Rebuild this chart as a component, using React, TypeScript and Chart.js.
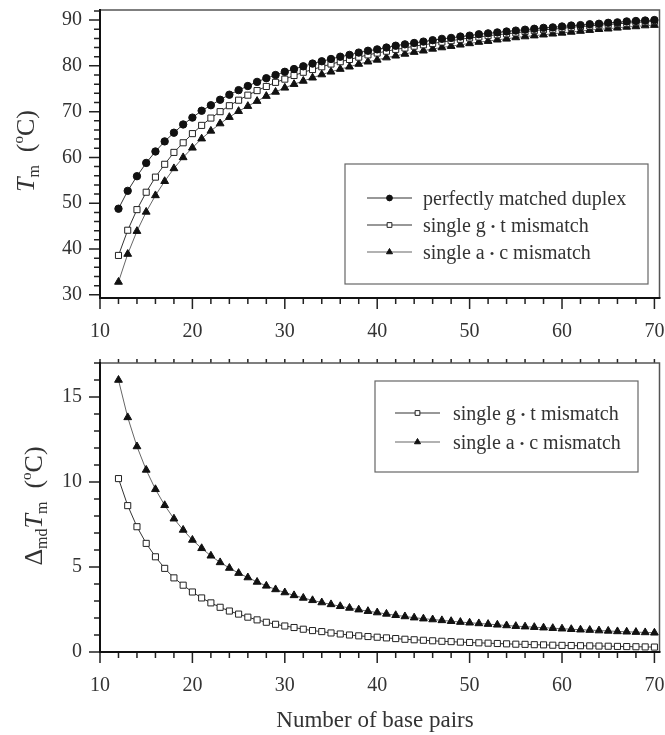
import React, { useEffect, useRef } from 'react';
import { Chart, registerables } from 'chart.js';

Chart.register(...registerables);

// ---------- data ----------
const basePairs = [
  12, 13, 14, 15, 16, 17, 18, 19, 20, 21, 22, 23, 24, 25, 26, 27, 28, 29, 30,
  31, 32, 33, 34, 35, 36, 37, 38, 39, 40, 41, 42, 43, 44, 45, 46, 47, 48, 49, 50,
  51, 52, 53, 54, 55, 56, 57, 58, 59, 60, 61, 62, 63, 64, 65, 66, 67, 68, 69, 70,
];

const tmPerfect = [
  48.8, 52.7, 55.9, 58.8, 61.3, 63.5, 65.4, 67.2, 68.7, 70.2, 71.4, 72.6, 73.7, 74.7, 75.6, 76.5, 77.3, 78.0, 78.7,
  79.3, 79.9, 80.5, 81.0, 81.5, 82.0, 82.4, 82.9, 83.3, 83.6, 84.0, 84.4, 84.7, 85.0, 85.3, 85.6, 85.9, 86.1, 86.4, 86.6,
  86.9, 87.1, 87.3, 87.5, 87.7, 87.9, 88.1, 88.3, 88.4, 88.6, 88.8, 88.9, 89.1, 89.2, 89.4, 89.5, 89.7, 89.8, 89.9, 90.0,
];

const tmGT = [
  38.6, 44.1, 48.6, 52.4, 55.7, 58.5, 61.1, 63.2, 65.2, 67.0, 68.6, 70.0, 71.3, 72.5, 73.6, 74.6, 75.5, 76.4, 77.1,
  77.9, 78.6, 79.2, 79.8, 80.4, 80.9, 81.4, 81.9, 82.4, 82.8, 83.2, 83.6, 83.9, 84.3, 84.6, 84.9, 85.2, 85.5, 85.8, 86.1,
  86.3, 86.6, 86.8, 87.0, 87.2, 87.5, 87.7, 87.9, 88.0, 88.2, 88.4, 88.6, 88.7, 88.9, 89.0, 89.2, 89.3, 89.5, 89.6, 89.7,
];

const tmAC = [
  32.8, 38.9, 43.9, 48.1, 51.7, 54.8, 57.6, 60.0, 62.1, 64.1, 65.8, 67.4, 68.8, 70.1, 71.2, 72.3, 73.4, 74.3, 75.2,
  76.0, 76.7, 77.4, 78.1, 78.7, 79.3, 79.8, 80.4, 80.9, 81.3, 81.8, 82.2, 82.6, 83.0, 83.3, 83.7, 84.0, 84.3, 84.6, 84.9,
  85.2, 85.4, 85.7, 85.9, 86.2, 86.4, 86.6, 86.8, 87.0, 87.2, 87.4, 87.6, 87.8, 88.0, 88.1, 88.3, 88.5, 88.6, 88.8, 88.9,
];

const dTmGT = [
  10.2, 8.61, 7.37, 6.39, 5.6, 4.92, 4.36, 3.93, 3.53, 3.18, 2.89, 2.63, 2.41, 2.23, 2.05, 1.89, 1.75, 1.63, 1.53,
  1.44, 1.34, 1.26, 1.2, 1.12, 1.06, 1.0, 0.95, 0.91, 0.87, 0.83, 0.79, 0.75, 0.72, 0.69, 0.66, 0.63, 0.61, 0.58, 0.56,
  0.54, 0.52, 0.5, 0.48, 0.46, 0.45, 0.43, 0.42, 0.4, 0.39, 0.38, 0.37, 0.36, 0.35, 0.34, 0.33, 0.32, 0.31, 0.3, 0.29,
];

const dTmAC = [
  16.0, 13.8, 12.09, 10.71, 9.57, 8.63, 7.84, 7.18, 6.59, 6.1, 5.66, 5.27, 4.94, 4.64, 4.38, 4.12, 3.89, 3.68, 3.5,
  3.33, 3.18, 3.04, 2.91, 2.8, 2.69, 2.59, 2.49, 2.4, 2.32, 2.24, 2.16, 2.09, 2.02, 1.96, 1.91, 1.86, 1.81, 1.76, 1.72,
  1.68, 1.64, 1.6, 1.56, 1.52, 1.49, 1.46, 1.43, 1.4, 1.37, 1.34, 1.31, 1.29, 1.26, 1.24, 1.21, 1.19, 1.17, 1.15, 1.13,
];

const labelPerfect = 'perfectly matched duplex';
const labelGT = 'single g • t mismatch';
const labelAC = 'single a • c mismatch';
const xAxisTitle = 'Number of base pairs';

// ---------- styling ----------
const SERIF = '"Liberation Serif", "Times New Roman", serif';
const TEXT = '#333';

const pts = (ys: number[]) => basePairs.map((x, i) => ({ x, y: ys[i] }));

const perfectStyle = {
  borderColor: '#333', borderWidth: 1, pointStyle: 'circle', pointRadius: 3.7,
  pointBackgroundColor: '#111', pointBorderColor: '#111', pointBorderWidth: 1,
};
const gtStyle = {
  borderColor: '#333', borderWidth: 1, pointStyle: 'rect', pointRadius: 4.3,
  pointBackgroundColor: '#fff', pointBorderColor: '#222', pointBorderWidth: 1,
};
const acStyle = {
  borderColor: '#666', borderWidth: 1, pointStyle: 'triangle', pointRadius: 4.5,
  pointBackgroundColor: '#111', pointBorderColor: '#111', pointBorderWidth: 1,
};

function drawMarker(ctx: CanvasRenderingContext2D, style: string, x: number, y: number, r: number, fill: string, stroke: string) {
  ctx.beginPath();
  if (style === 'circle') {
    ctx.arc(x, y, r, 0, Math.PI * 2);
  } else if (style === 'rect') {
    const s = r * Math.SQRT1_2;
    ctx.rect(x - s, y - s, 2 * s, 2 * s);
  } else {
    ctx.moveTo(x, y - r);
    ctx.lineTo(x + r * 0.866, y + r * 0.5);
    ctx.lineTo(x - r * 0.866, y + r * 0.5);
    ctx.closePath();
  }
  ctx.fillStyle = fill;
  ctx.fill();
  ctx.strokeStyle = stroke;
  ctx.lineWidth = 1;
  ctx.stroke();
}

type Seg = { t: string; size: number; italic?: boolean; dy?: number };

function drawRotatedRich(ctx: CanvasRenderingContext2D, segs: Seg[], bx: number, cy: number) {
  ctx.save();
  ctx.translate(bx, cy);
  ctx.rotate(-Math.PI / 2);
  ctx.fillStyle = TEXT;
  ctx.textBaseline = 'alphabetic';
  ctx.textAlign = 'left';
  const fontOf = (s: Seg) => `${s.italic ? 'italic ' : ''}${s.size}px ${SERIF}`;
  let total = 0;
  for (const s of segs) {
    ctx.font = fontOf(s);
    total += ctx.measureText(s.t).width;
  }
  let x = -total / 2;
  for (const s of segs) {
    ctx.font = fontOf(s);
    ctx.fillText(s.t, x, s.dy || 0);
    x += ctx.measureText(s.t).width;
  }
  ctx.restore();
}

// legend label: the "•" between bases is drawn smaller, as in the original
function drawLegendLabel(ctx: CanvasRenderingContext2D, label: string, x: number, baseline: number) {
  const parts = label.split('•');
  ctx.textBaseline = 'alphabetic';
  ctx.textAlign = 'left';
  ctx.fillStyle = TEXT;
  let cx = x;
  parts.forEach((p, i) => {
    ctx.font = `20px ${SERIF}`;
    ctx.fillText(p, cx, baseline);
    cx += ctx.measureText(p).width;
    if (i < parts.length - 1) {
      ctx.font = `13px ${SERIF}`;
      ctx.fillText('•', cx, baseline - 1);
      cx += ctx.measureText('•').width;
    }
  });
}

type DecorCfg = {
  xMajor: number;
  yMajor: number;
  topTicks: boolean;
  legend: { box: [number, number, number, number]; rows: number[]; lineX: [number, number]; textX: number; items: { label: string; ds: number }[] };
  yTitle: { segs: Seg[]; bx: number; cy: number };
  xTitle?: { text: string; cx: number; by: number };
};

function makeDecor(id: string, cfg: DecorCfg) {
  return {
    id,
    afterDraw(chart: any) {
      const ctx: CanvasRenderingContext2D = chart.ctx;
      const { left, right, top, bottom } = chart.chartArea;
      const xs = chart.scales.x;
      const ys = chart.scales.y;
      ctx.save();

      // tick marks (major / minor)
      ctx.strokeStyle = '#222';
      ctx.lineWidth = 1.5;
      ctx.beginPath();
      for (const t of xs.ticks) {
        const px = xs.getPixelForValue(t.value);
        const len = t.value % cfg.xMajor === 0 ? 11 : 6;
        ctx.moveTo(px, bottom);
        ctx.lineTo(px, bottom + len);
        if (cfg.topTicks) {
          ctx.moveTo(px, top);
          ctx.lineTo(px, top - 4);
        }
      }
      for (const t of ys.ticks) {
        const py = ys.getPixelForValue(t.value);
        const len = Math.abs(t.value % cfg.yMajor) < 1e-6 ? 11 : 6;
        ctx.moveTo(left, py);
        ctx.lineTo(left - len, py);
      }
      ctx.stroke();

      // frame
      ctx.strokeStyle = '#555';
      ctx.lineWidth = 1.5;
      ctx.beginPath();
      ctx.moveTo(left, top);
      ctx.lineTo(right, top);
      ctx.lineTo(right, bottom);
      ctx.stroke();
      ctx.strokeStyle = '#111';
      ctx.lineWidth = 2;
      ctx.beginPath();
      ctx.moveTo(left, top - 1);
      ctx.lineTo(left, bottom);
      ctx.lineTo(right + 1, bottom);
      ctx.stroke();

      // legend
      const L = cfg.legend;
      ctx.strokeStyle = '#666';
      ctx.lineWidth = 1.2;
      ctx.strokeRect(L.box[0], L.box[1], L.box[2] - L.box[0], L.box[3] - L.box[1]);
      L.items.forEach((it, i) => {
        const ds = chart.data.datasets[it.ds];
        const y = L.rows[i];
        ctx.strokeStyle = ds.borderColor;
        ctx.lineWidth = 1.2;
        ctx.beginPath();
        ctx.moveTo(L.lineX[0], y);
        ctx.lineTo(L.lineX[1], y);
        ctx.stroke();
        drawMarker(ctx, ds.pointStyle, (L.lineX[0] + L.lineX[1]) / 2, y, ds.pointRadius * 0.78, ds.pointBackgroundColor, ds.pointBorderColor);
        drawLegendLabel(ctx, it.label, L.textX, y + 7);
      });

      // axis titles
      drawRotatedRich(ctx, cfg.yTitle.segs, cfg.yTitle.bx, cfg.yTitle.cy);
      if (cfg.xTitle) {
        ctx.font = `23px ${SERIF}`;
        ctx.fillStyle = TEXT;
        ctx.textAlign = 'center';
        ctx.textBaseline = 'alphabetic';
        ctx.fillText(cfg.xTitle.text, cfg.xTitle.cx, cfg.xTitle.by);
      }
      ctx.restore();
    },
  };
}

const zeroPad = (s: any) => {
  s.paddingTop = 0;
  s.paddingBottom = 0;
  s.paddingLeft = 0;
  s.paddingRight = 0;
};

function baseScales(yMin: number, yMax: number, yStep: number, yMajor: number, xHeight: number) {
  const tickFont = { family: SERIF, size: 20 };
  return {
    x: {
      type: 'linear',
      min: 10,
      max: 70.55,
      afterFit: (s: any) => { s.height = xHeight; zeroPad(s); },
      grid: { display: false, drawTicks: false },
      border: { display: false },
      ticks: {
        stepSize: 2,
        includeBounds: false,
        autoSkip: false,
        maxRotation: 0,
        padding: 22,
        color: TEXT,
        font: tickFont,
        callback: (v: number) => (v % 10 === 0 ? String(v) : ''),
      },
    },
    y: {
      type: 'linear',
      min: yMin,
      max: yMax,
      afterFit: (s: any) => { s.width = 100; zeroPad(s); },
      grid: { display: false, drawTicks: false },
      border: { display: false },
      ticks: {
        stepSize: yStep,
        includeBounds: false,
        autoSkip: false,
        padding: 18,
        color: TEXT,
        font: tickFont,
        callback: (v: number) => (Math.abs(v % yMajor) < 1e-6 ? String(v) : ''),
      },
    },
  };
}

export default function App() {
  const topRef = useRef<HTMLCanvasElement>(null);
  const botRef = useRef<HTMLCanvasElement>(null);

  useEffect(() => {
    const common = {
      responsive: false,
      animation: false,
      devicePixelRatio: 1,
      plugins: { legend: { display: false }, tooltip: { enabled: false } },
    };

    const topChart = new Chart(topRef.current as HTMLCanvasElement, {
      type: 'line',
      data: {
        datasets: [
          { label: labelPerfect, data: pts(tmPerfect), ...perfectStyle },
          { label: labelGT, data: pts(tmGT), ...gtStyle },
          { label: labelAC, data: pts(tmAC), ...acStyle },
        ],
      },
      options: {
        ...common,
        layout: { padding: { left: 0, right: 5, top: 10, bottom: 0 } },
        scales: baseScales(29.3, 92.2, 2, 10, 52),
      } as any,
      plugins: [
        makeDecor('decorTop', {
          xMajor: 10,
          yMajor: 10,
          topTicks: false,
          legend: {
            box: [345, 164, 648, 284],
            rows: [198, 225, 252],
            lineX: [367, 412],
            textX: 423,
            items: [
              { label: labelPerfect, ds: 0 },
              { label: labelGT, ds: 1 },
              { label: labelAC, ds: 2 },
            ],
          },
          yTitle: {
            bx: 34,
            cy: 151,
            segs: [
              { t: 'T', size: 26, italic: true },
              { t: 'm', size: 16, dy: 5 },
              { t: '  (', size: 26 },
              { t: 'o', size: 15, dy: -11 },
              { t: 'C)', size: 26 },
            ],
          },
        }),
      ],
    } as any);

    const botChart = new Chart(botRef.current as HTMLCanvasElement, {
      type: 'line',
      data: {
        datasets: [
          { label: labelGT, data: pts(dTmGT), ...gtStyle },
          { label: labelAC, data: pts(dTmAC), ...acStyle },
        ],
      },
      options: {
        ...common,
        layout: { padding: { left: 0, right: 5, top: 13, bottom: 0 } },
        scales: baseScales(0, 17, 1, 5, 83),
      } as any,
      plugins: [
        makeDecor('decorBot', {
          xMajor: 10,
          yMajor: 5,
          topTicks: true,
          legend: {
            box: [375, 31, 638, 122],
            rows: [63, 92],
            lineX: [395, 440],
            textX: 453,
            items: [
              { label: labelGT, ds: 0 },
              { label: labelAC, ds: 1 },
            ],
          },
          yTitle: {
            bx: 42,
            cy: 156,
            segs: [
              { t: 'Δ', size: 26 },
              { t: 'md', size: 16, dy: 5 },
              { t: 'T', size: 26, italic: true },
              { t: 'm', size: 16, dy: 5 },
              { t: '  (', size: 26 },
              { t: 'o', size: 15, dy: -11 },
              { t: 'C)', size: 26 },
            ],
          },
          xTitle: { text: xAxisTitle, cx: 375, by: 377 },
        }),
      ],
    } as any);

    return () => {
      topChart.destroy();
      botChart.destroy();
    };
  }, []);

  return (
    <div style={{ position: 'absolute', left: 0, top: 0, width: 665, height: 735, background: '#fff' }}>
      <canvas ref={topRef} width={665} height={350} style={{ position: 'absolute', left: 0, top: 0, display: 'block' }} />
      <canvas ref={botRef} width={665} height={385} style={{ position: 'absolute', left: 0, top: 350, display: 'block' }} />
    </div>
  );
}
